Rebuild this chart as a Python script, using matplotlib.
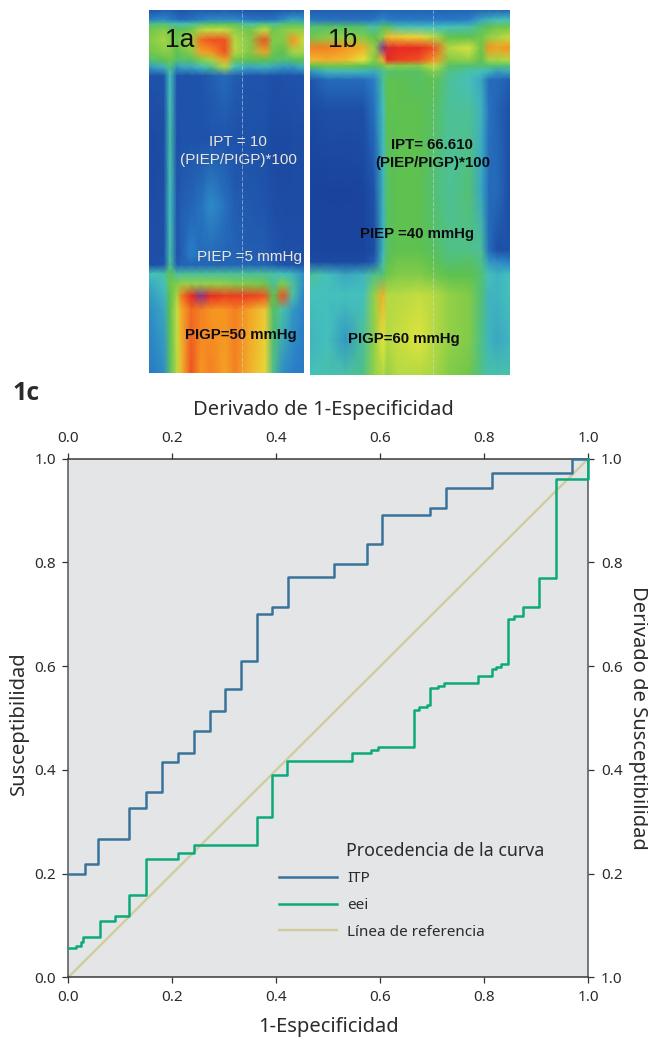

import matplotlib
matplotlib.use("Agg")
import matplotlib.pyplot as plt
import numpy as np
from matplotlib.colors import LinearSegmentedColormap

W, H = 648, 1037

# ROC curves: step positions and levels
itp_x = [0.0, 0.032, 0.057, 0.117, 0.150, 0.180, 0.211, 0.242, 0.273, 0.301, 0.332, 0.363,
         0.392, 0.422, 0.511, 0.574, 0.603, 0.695, 0.726, 0.815, 0.968, 1.0]
itp_y = [0.200, 0.219, 0.267, 0.326, 0.358, 0.415, 0.433, 0.474, 0.514, 0.555, 0.609, 0.700,
         0.715, 0.771, 0.796, 0.835, 0.891, 0.904, 0.944, 0.972, 1.0, 1.0]
eei_x = [0.0, 0.015, 0.024, 0.029, 0.061, 0.090, 0.117, 0.149, 0.211, 0.242, 0.363, 0.392,
         0.421, 0.545, 0.582, 0.596, 0.665, 0.675, 0.689, 0.695, 0.710, 0.723, 0.787, 0.815,
         0.822, 0.832, 0.845, 0.858, 0.874, 0.906, 0.938, 1.0]
eei_y = [0.056, 0.061, 0.068, 0.077, 0.108, 0.118, 0.158, 0.228, 0.240, 0.256, 0.309, 0.391,
         0.417, 0.432, 0.438, 0.444, 0.515, 0.522, 0.526, 0.557, 0.562, 0.567, 0.581, 0.595,
         0.598, 0.604, 0.691, 0.697, 0.715, 0.770, 0.960, 1.0]
ref_x = [0.0, 1.0]
ref_y = [0.0, 1.0]

tick_vals = [0.0, 0.2, 0.4, 0.6, 0.8, 1.0]
tick_labels = ["0.0", "0.2", "0.4", "0.6", "0.8", "1.0"]
right_labels = ["1.0", "0.2", "0.4", "0.6", "0.8", "1.0"]

legend_title = "Procedencia de la curva"
legend_names = ["ITP", "eei", "Línea de referencia"]

# pressure maps, 0-100 on the colour scale below
a_cols = [0, 15, 21, 28, 32, 42, 52, 62, 76, 86, 100, 116, 124, 134, 144, 155]
a_rows = [0, 10, 14, 20, 30, 42, 50, 57, 66, 130, 195, 245, 255, 264, 274, 286, 300, 363]
a_vals = [
    [15, 18, 18, 16, 15, 17, 18, 17, 18, 17, 16, 16, 16, 17, 17, 18],
    [28, 30, 28, 24, 22, 24, 28, 30, 30, 30, 26, 25, 25, 30, 34, 32],
    [45, 45, 42, 40, 38, 42, 45, 48, 48, 48, 40, 46, 42, 46, 48, 46],
    [52, 55, 52, 50, 50, 52, 60, 62, 62, 56, 52, 62, 52, 55, 56, 56],
    [54, 58, 55, 52, 55, 58, 82, 84, 84, 60, 54, 84, 54, 54, 78, 62],
    [52, 55, 55, 50, 52, 55, 76, 78, 84, 60, 54, 76, 52, 50, 58, 58],
    [46, 50, 52, 48, 46, 48, 54, 58, 76, 52, 50, 50, 48, 46, 48, 50],
    [32, 36, 45, 32, 34, 34, 38, 44, 60, 38, 34, 36, 34, 32, 32, 36],
    [15, 16, 38, 16, 15, 15, 16, 18, 22, 18, 16, 16, 14, 15, 15, 16],
    [10, 12, 40, 14, 15, 16, 15, 16, 16, 15, 15, 14, 10, 10, 11, 12],
    [11, 13, 38, 16, 18, 20, 24, 30, 24, 18, 17, 16, 13, 11, 11, 12],
    [13, 14, 40, 16, 18, 28, 22, 22, 20, 20, 18, 18, 16, 14, 13, 13],
    [14, 16, 42, 18, 20, 20, 20, 20, 20, 20, 20, 20, 18, 16, 15, 15],
    [38, 40, 50, 40, 42, 42, 42, 42, 42, 42, 42, 42, 40, 38, 36, 30],
    [34, 38, 52, 54, 56, 56, 56, 56, 56, 54, 54, 52, 42, 54, 42, 30],
    [32, 36, 50, 58, 80, 88, 97, 88, 86, 86, 86, 84, 50, 84, 40, 28],
    [30, 34, 50, 62, 74, 82, 80, 78, 78, 80, 76, 70, 48, 40, 32, 28],
    [26, 30, 48, 60, 72, 84, 78, 80, 76, 80, 74, 68, 44, 30, 28, 26],
]

b_cols = [0, 18, 36, 54, 65, 74, 78, 88, 110, 125, 140, 160, 172, 180, 188, 201]
b_rows = [0, 10, 17, 27, 38, 50, 56, 62, 70, 100, 180, 240, 252, 265, 285, 330, 365]
b_vals = [
    [18, 18, 18, 18, 18, 20, 20, 20, 20, 20, 20, 20, 20, 20, 20, 20],
    [26, 24, 24, 24, 26, 30, 28, 26, 26, 26, 26, 28, 34, 36, 38, 38],
    [46, 48, 48, 46, 40, 48, 48, 40, 38, 38, 38, 40, 46, 50, 52, 52],
    [52, 55, 56, 54, 50, 56, 72, 70, 68, 60, 50, 50, 52, 56, 58, 62],
    [80, 80, 78, 74, 56, 98, 90, 88, 88, 84, 60, 64, 52, 78, 76, 78],
    [72, 74, 72, 66, 54, 74, 88, 86, 84, 78, 54, 56, 50, 58, 58, 60],
    [50, 52, 52, 50, 48, 52, 56, 54, 54, 62, 48, 46, 46, 46, 46, 46],
    [30, 36, 36, 36, 34, 42, 46, 48, 48, 54, 44, 40, 38, 36, 32, 34],
    [16, 22, 22, 22, 28, 42, 50, 50, 48, 50, 42, 38, 34, 22, 22, 18],
    [10, 14, 13, 14, 24, 38, 50, 50, 50, 48, 42, 42, 36, 24, 20, 14],
    [6, 6, 6, 7, 16, 36, 48, 50, 50, 46, 42, 46, 34, 22, 22, 12],
    [8, 7, 7, 7, 12, 36, 48, 50, 50, 48, 44, 44, 42, 22, 14, 14],
    [12, 10, 10, 10, 18, 40, 50, 52, 52, 50, 46, 48, 44, 32, 30, 28],
    [42, 38, 34, 36, 44, 46, 52, 54, 54, 52, 50, 50, 46, 38, 36, 38],
    [38, 38, 38, 38, 56, 74, 60, 60, 62, 60, 56, 54, 46, 36, 36, 38],
    [36, 38, 32, 42, 56, 66, 60, 62, 65, 60, 56, 54, 44, 36, 34, 36],
    [38, 40, 40, 44, 56, 60, 56, 60, 60, 58, 54, 52, 44, 40, 40, 40],
]

colour_scale = [
    (0.00, "#163a94"), (0.15, "#1f52aa"), (0.28, "#2a80c8"), (0.38, "#45c0bc"),
    (0.50, "#5cc050"), (0.58, "#a5d545"), (0.66, "#e6e63c"), (0.78, "#f69522"),
    (0.88, "#ea2b20"), (1.00, "#6f2fa5"),
]

PANEL_FONT = ["Liberation Sans", "DejaVu Sans"]
CHART_FONT = ["Noto Sans", "DejaVu Sans"]
INK = "#2b2b2b"


def px_axes(fig, x0, y0, x1, y1):
    # pixel box measured from the top left of the picture
    return fig.add_axes([x0 / W, 1 - y1 / H, (x1 - x0) / W, (y1 - y0) / H])


def px_text(fig, x, y, s, **kw):
    return fig.text(x / W, 1 - y / H, s, **kw)


def draw_map(fig, box, cols, rows, vals, cmap, dash_x):
    ax = px_axes(fig, *box)
    ax.pcolormesh(cols, rows, np.array(vals), shading="gouraud", cmap=cmap, vmin=0, vmax=100)
    ax.axvline(dash_x, color="#d5dce0", lw=0.6, ls=(0, (5, 2)), alpha=0.6)
    ax.set_xlim(cols[0], cols[-1])
    ax.set_ylim(rows[-1], rows[0])
    ax.axis("off")


def main():
    fig = plt.figure(figsize=(W / 100, H / 100), dpi=100)
    cmap = LinearSegmentedColormap.from_list("mano", colour_scale)

    draw_map(fig, (149, 10, 304, 373), a_cols, a_rows, a_vals, cmap, 93)
    draw_map(fig, (309.5, 10, 510, 375), b_cols, b_rows, b_vals, cmap, 124)

    big = dict(family=PANEL_FONT, fontsize=19, color="#111111", ha="left", va="center")
    px_text(fig, 165, 40, "1a", **big)
    px_text(fig, 328, 40, "1b", **big)

    pale = dict(family=PANEL_FONT, fontsize=11, color="#ece6d8", ha="center", va="center")
    px_text(fig, 238, 142, "IPT = 10", **pale)
    px_text(fig, 238, 160, "(PIEP/PIGP)*100", **pale)
    px_text(fig, 249.5, 257, "PIEP =5 mmHg", **pale)

    dark = dict(family=PANEL_FONT, fontsize=10.8, color="#0c0c14", ha="center", va="center", weight="bold")
    px_text(fig, 241, 335, "PIGP=50 mmHg", **dark)
    px_text(fig, 432, 145, "IPT= 66.610", **dark)
    px_text(fig, 433, 163, "(PIEP/PIGP)*100", **dark)
    px_text(fig, 417, 234, "PIEP =40 mmHg", **dark)
    px_text(fig, 404, 339, "PIGP=60 mmHg", **dark)

    px_text(fig, 12, 394, "1c", family=["Open Sans", "DejaVu Sans"], fontsize=18, weight="bold", color=INK,
            ha="left", va="center")

    # ROC chart with both sets of axes
    ax = px_axes(fig, 68.3, 458.7, 588.3, 977.3)
    ax.set_facecolor("#e4e5e7")
    ax.plot(ref_x, ref_y, color="#d0cd9c", lw=1.7, label=legend_names[2], zorder=2)
    ax.step(itp_x, itp_y, where="post", color="#3a7399", lw=1.8, label=legend_names[0], zorder=3,
            clip_on=False)
    ax.step(eei_x, eei_y, where="post", color="#0ca97b", lw=1.8, label=legend_names[1], zorder=4,
            clip_on=False)
    ax.set_xlim(0, 1)
    ax.set_ylim(0, 1)

    for side, c in (("left", "#555555"), ("right", "#555555"), ("top", "#3a3a3a"), ("bottom", "#3a3a3a")):
        ax.spines[side].set_color(c)
        ax.spines[side].set_linewidth(1.1)

    ax.set_xticks(tick_vals, tick_labels, family=CHART_FONT)
    ax.set_yticks(tick_vals, tick_labels, family=CHART_FONT)
    tick_style = dict(length=4.5, width=0.9, color="#333333", labelsize=11, labelcolor=INK, pad=4.5)
    ax.tick_params(axis="both", **tick_style)

    top = ax.secondary_xaxis("top")
    top.set_xticks(tick_vals, tick_labels, family=CHART_FONT)
    top.tick_params(**tick_style)
    top.spines["top"].set_visible(False)
    right = ax.secondary_yaxis("right")
    right.set_yticks(tick_vals, right_labels, family=CHART_FONT)
    right.tick_params(**tick_style)
    right.spines["right"].set_visible(False)

    label = dict(family=CHART_FONT, fontsize=14.5, color=INK, ha="center", va="center")
    px_text(fig, 323, 410, "Derivado de 1-Especificidad", **label)
    px_text(fig, 328, 1027, "1-Especificidad", **label)
    px_text(fig, 19, 723, "Susceptibilidad", rotation=90, **label)
    px_text(fig, 638, 718, "Derivado de Susceptibilidad", rotation=-90, **label)

    handles, labels = ax.get_legend_handles_labels()
    order = [labels.index(n) for n in legend_names]
    leg = ax.legend([handles[i] for i in order], [labels[i] for i in order], frameon=False,
                    loc="upper left", bbox_to_anchor=((279 - 68.3) / 520, (977.3 - 871.5) / 518.6),
                    borderaxespad=0, borderpad=0, prop={"family": CHART_FONT, "size": 11},
                    handlelength=3.8, handletextpad=0.65, labelspacing=0.76)
    for t in leg.get_texts():
        t.set_color(INK)
    px_text(fig, 346, 851, legend_title, family=CHART_FONT, fontsize=12.8, color=INK, ha="left", va="center")

    fig.savefig("out.png", dpi=100)
    plt.close(fig)


if __name__ == "__main__":
    main()
